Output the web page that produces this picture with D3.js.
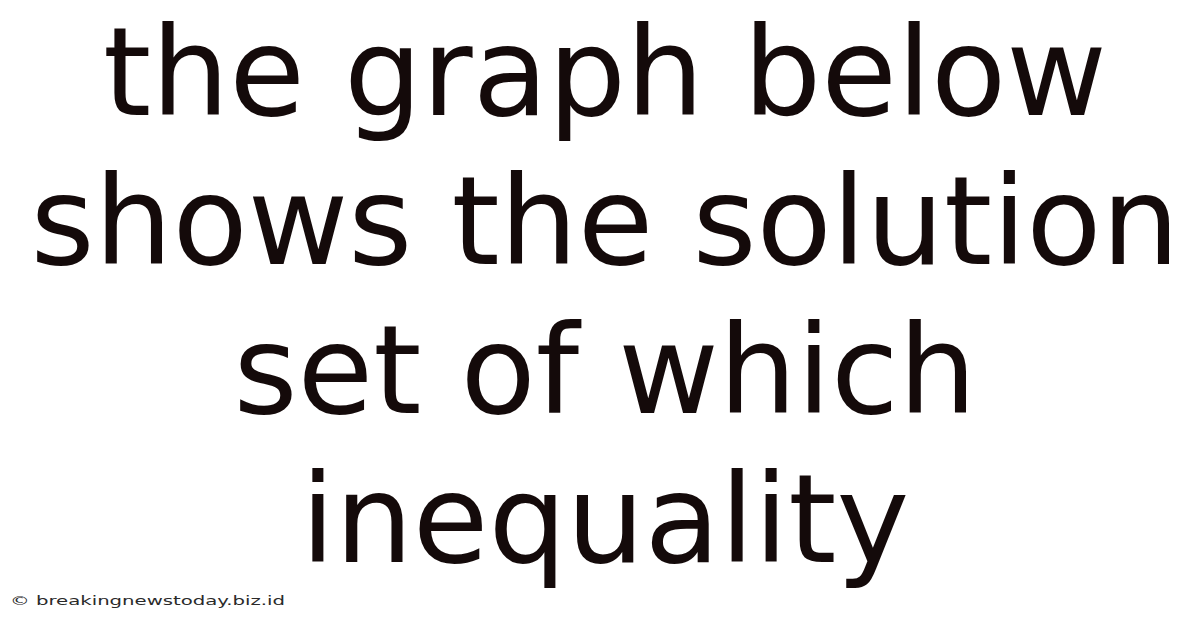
<!DOCTYPE html>
<html><head><meta charset="utf-8">
<script src="https://cdn.jsdelivr.net/npm/d3@7"></script>
<style>html,body{margin:0;padding:0;background:#fff;}</style>
</head><body>
<script>
const lines = ["the graph below", "shows the solution", "set of which", "inequality"];
const watermark = "© breakingnewstoday.biz.id";
const W = 1200, H = 628;
const svg = d3.select("body").append("svg").attr("width", W).attr("height", H);
svg.append("rect").attr("width", W).attr("height", H).attr("fill", "#fff");
const y = d3.scalePoint().domain(d3.range(lines.length)).range([115, 562]);
svg.selectAll("text.line").data(lines).join("text")
  .attr("class", "line")
  .attr("x", 605).attr("y", (d, i) => y(i))
  .attr("text-anchor", "middle")
  .attr("font-family", "DejaVu Sans")
  .attr("font-size", 123)
  .attr("fill", "#140a0a")
  .text(d => d);
svg.append("text").attr("x", 10).attr("y", 605)
  .attr("font-family", "DejaVu Sans").attr("font-size", 12)
  .attr("textLength", 275).attr("lengthAdjust", "spacingAndGlyphs")
  .attr("fill", "#2a2a2a").text(watermark);
</script>
</body></html>
